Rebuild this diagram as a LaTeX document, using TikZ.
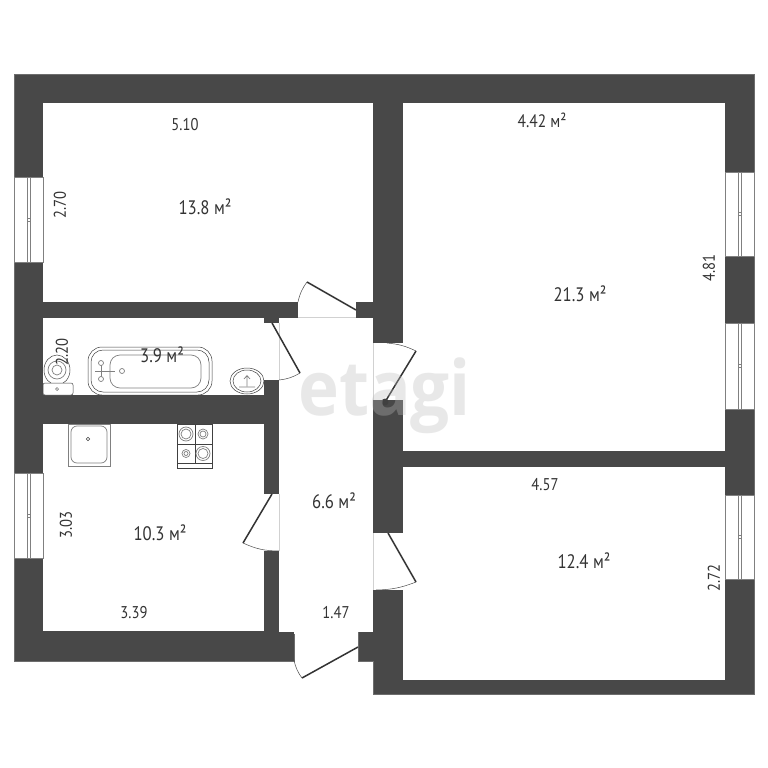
\documentclass[tikz,border=0pt]{standalone}
\usepackage{fontspec}
\setmainfont{PT Sans}[FakeStretch=0.86]
\newfontfamily\markfont{Open Sans}[FakeStretch=0.91]
\definecolor{wallgray}{HTML}{484848}
\begin{document}
\begin{tikzpicture}[x=1pt,y=-1pt,
    wall/.style={fill=wallgray,draw=wallgray!80!white,line width=.6pt},
    room/.style={fill=white},
    sill/.style={draw=black!18,line width=.6pt},
    leaf/.style={draw=black!80,line width=1.5pt},
    swing/.style={draw=black!70,line width=.5pt},
    fixture/.style={draw=black!75,line width=.5pt},
    pale/.style={draw=black!50,line width=.7pt},
    dim/.style={font=\fontsize{17}{17}\selectfont,text=black!80,inner sep=0pt},
    area/.style={font=\fontsize{19.5}{20}\selectfont,text=black!80,inner sep=0pt}]
  \useasboundingbox (0,0) rectangle (768,768);
  \fill[white] (0,0) rectangle (768,768);
  \draw[wall] (14,74) -- (754,74) -- (754,694) -- (373,694) -- (373,661) -- (358,661)
    -- (358,632) -- (294,632) -- (294,661) -- (14,661) -- cycle;
  \fill[room] (43,103) rectangle (373,302);
  \fill[room] (403,103) rectangle (725,451);
  \fill[room] (403,467) rectangle (725,680);
  \fill[room] (43,318) rectangle (264,395);
  \fill[room] (43,424) rectangle (264,631);
  \fill[room] (279,318) rectangle (373,632);
  \fill[room] (294.3,631) rectangle (357.7,634);
  \fill[room] (298,302) rectangle (356,318);
  \fill[room] (264,323) rectangle (279,380);
  \fill[room] (264,494) rectangle (279,551);
  \fill[room] (373,343) rectangle (403,400);
  \fill[room] (373,533) rectangle (403,590);
  \draw[sill] (298,317.5) -- (356,317.5);
  \draw[sill] (279,323) -- (279,380);
  \draw[sill] (279,494) -- (279,551);
  \draw[sill] (373,343) -- (373,400);
  \draw[sill] (373,533) -- (373,590);
  \foreach \x/\y/\h in {14/177/85,14/473/85,725/172/84,725/323/86,725/495/84}{
    \draw[pale,fill=white] (\x,\y) rectangle ++(29,\h);
    \draw[pale,fill=white] (\x+13,\y) rectangle ++(3,\h);
    \draw[pale] (\x+13,\y+\h/2-1.5) rectangle ++(3,3);
  }
  \draw[leaf] (356,310) -- (307,282);
  \draw[swing] (307,282) to[bend right=12] (298,302);
  \draw[leaf] (272,323) -- (300,373);
  \draw[swing] (300,373) to[bend left=12] (279,380);
  \draw[leaf] (385,402) -- (416,351);
  \draw[swing] (416,351) to[bend right=10] (387,343);
  \fill[black!75] (385,402) circle (3.5);
  \draw[leaf] (388,533) -- (416,582);
  \draw[swing] (416,582) to[bend left=10] (376,590);
  \draw[leaf] (272,494) -- (243,543);
  \draw[swing] (243,543) to[bend right=12] (279,551);
  \draw[leaf] (358,647) -- (302,678);
  \draw[swing] (302,678) to[bend left=12] (294,660);
  \draw[fixture,rounded corners=14pt] (88,347) rectangle (212,395);
  \draw[fixture,rounded corners=12pt] (91,350) rectangle (209,392);
  \draw[pale,rounded corners=10pt] (110,355) rectangle (201,388);
  \draw[pale] (95,371) -- (115,371) (101,363) -- (101,379);
  \draw[pale,fill=white] (101,363) circle (2.5) (101,379) circle (2.5) (122,371) circle (2.5);
  \draw[fixture,fill=white] (57,370) ellipse (13 and 15);
  \draw[pale] (57,370) circle (9) circle (5);
  \draw[fixture,fill=white,rounded corners=2pt] (43,383) rectangle (73,395);
  \draw[pale] (57,389) circle (1.5);
  \draw[fixture] (247,381) ellipse (17 and 13) ellipse (14 and 11);
  \draw[pale] (247,386) -- (247,376) (244,379) -- (247,375.5) -- (250,379)
    (239,387) -- (255,387);
  \draw[pale] (68,424) rectangle (110,466);
  \draw[pale,rounded corners=6pt] (71,426) rectangle (107,463);
  \draw[fixture] (88,439) circle (1.8);
  \draw[fixture,line width=.7pt] (177,424) rectangle (212,468) (195,424) -- (195,463)
    (177,444) -- (212,444) (177,463) -- (212,463);
  \draw[pale] (186,434) circle (7) circle (5);
  \draw[pale] (203,434) circle (5) circle (3);
  \draw[pale] (186,453.5) circle (4) circle (2);
  \draw[pale] (203,453.5) circle (7) circle (5);
  \node[dim] (topLeftWidth) at (185,125) {5.10};
  \node[dim,rotate=90] (topLeftDepth) at (60,205) {2.70};
  \node[area] (topLeftArea) at (205,207) {13.8 м²};
  \node[dim,font=\fontsize{18}{18}\selectfont] (topRightWidth) at (542,120) {4.42 м²};
  \node[area] (topRightArea) at (580,294) {21.3 м²};
  \node[dim,rotate=90] (topRightDepth) at (709,268) {4.81};
  \node[dim,rotate=90] (bathDepth) at (62,352) {2.20};
  \node[area] (bathArea) at (162,355) {3.9 м²};
  \node[area] (kitchenArea) at (160,533) {10.3 м²};
  \node[dim,rotate=90] (kitchenDepth) at (66,525) {3.03};
  \node[dim] (kitchenWidth) at (134,613) {3.39};
  \node[area] (hallArea) at (334,501) {6.6 м²};
  \node[dim] (hallWidth) at (336,613) {1.47};
  \node[dim] (lowRightWidth) at (545,485) {4.57};
  \node[area] (lowRightArea) at (584,561) {12.4 м²};
  \node[dim,rotate=90] (lowRightDepth) at (714,578) {2.72};
  \node[font=\markfont\bfseries\fontsize{76}{76}\selectfont,text=black!27,opacity=.33,inner sep=0pt,anchor=base west]
    (etagiMark) at (298,415) {etagi};
\end{tikzpicture}
\end{document}
